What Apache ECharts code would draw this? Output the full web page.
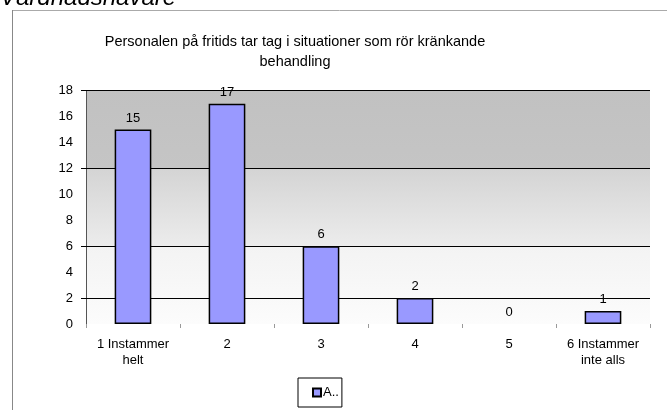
<!DOCTYPE html>
<html>
<head>
<meta charset="utf-8">
<script src="https://cdn.jsdelivr.net/npm/echarts@6/dist/echarts.min.js"></script>
<style>
html,body{margin:0;padding:0;background:#fff;}
#chart{width:667px;height:410px;}
</style>
</head>
<body>
<div id="chart"></div>
<script>
const categories = ['1 Instammer\nhelt', '2', '3', '4', '5', '6 Instammer\ninte alls'];
const values = [15, 17, 6, 2, 0, 1];
const seriesName = 'A..';
const yTicks = [0, 2, 4, 6, 8, 10, 12, 14, 16, 18];
const gridValues = [2, 6, 12, 18];
const titleText = 'Personalen på fritids tar tag i situationer som rör kränkande\nbehandling';
const headerText = 'Vårdnadshavare';

const FONT = 'Liberation Sans, Arial, sans-serif';
const chart = echarts.init(document.getElementById('chart'), null, {renderer: 'canvas'});
chart.setOption({
  animation: false,
  backgroundColor: '#ffffff',
  textStyle: {fontFamily: FONT},
  title: {
    text: titleText,
    left: 290,
    top: 27,
    textAlign: 'center',
    textStyle: {fontFamily: FONT, fontSize: 14.5, fontWeight: 'normal', color: '#000', lineHeight: 20, align: 'center'}
  },
  graphic: [
    {type: 'text', left: 0, top: -14, style: {text: headerText, font: 'italic 24px Liberation Sans, Arial, sans-serif', fill: '#000'}},
    {type: 'line', shape: {x1: 12, y1: 10.5, x2: 667, y2: 10.5}, style: {stroke: '#aaaaaa', lineWidth: 1}},
    {type: 'line', shape: {x1: 12.5, y1: 10, x2: 12.5, y2: 410}, style: {stroke: '#888888', lineWidth: 1}}
  ],
  legend: {
    left: 298, top: 378,
    data: [seriesName],
    icon: 'rect', itemWidth: 8, itemHeight: 8, itemGap: 0,
    borderColor: '#000', borderWidth: 1, padding: [8, 3, 8, 14],
    textStyle: {fontFamily: FONT, fontSize: 13, color: '#000', padding: [0, 0, 0, -3]},
    selectedMode: false
  },
  grid: {
    left: 86, right: 17, top: 90.7, bottom: 86,
    show: true, borderWidth: 0,
    backgroundColor: new echarts.graphic.LinearGradient(0, 0, 0, 1, [
      {offset: 0, color: '#c1c1c1'},
      {offset: 0.333, color: '#c5c5c5'},
      {offset: 0.334, color: '#d4d4d4'},
      {offset: 0.666, color: '#ececec'},
      {offset: 0.667, color: '#f3f3f3'},
      {offset: 1, color: '#fcfcfc'}
    ])
  },
  xAxis: {
    type: 'category',
    data: categories,
    axisLine: {show: false},
    axisTick: {show: true, length: 4, lineStyle: {color: '#999'}},
    axisLabel: {color: '#000', fontSize: 13, margin: 12, lineHeight: 16, interval: 0, fontFamily: FONT},
    splitLine: {show: false}
  },
  yAxis: {
    type: 'value',
    min: 0, max: 18, interval: 2,
    axisLine: {show: true, lineStyle: {color: '#555', width: 1}},
    axisTick: {show: true, length: 5, lineStyle: {color: '#000'}, customValues: gridValues},
    axisLabel: {color: '#000', fontSize: 13, margin: 13, fontFamily: FONT, customValues: yTicks},
    splitLine: {show: false}
  },
  series: [{
    name: seriesName,
    type: 'bar',
    data: values.map(v => v === 0 ? {value: v, itemStyle: {borderWidth: 0}} : v),
    barWidth: '39%',
    itemStyle: {color: '#9999ff', borderColor: '#000', borderWidth: 1.5},
    label: {show: true, position: 'top', distance: 5, color: '#000', fontSize: 13, fontFamily: FONT},
    markLine: {
      silent: true, symbol: 'none', label: {show: false},
      lineStyle: {color: '#000', type: 'solid', width: 1},
      data: gridValues.map(v => ({yAxis: v})),
      z: 1
    }
  }]
});
</script>
</body>
</html>
